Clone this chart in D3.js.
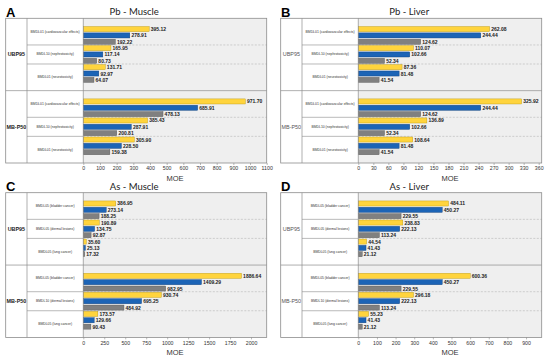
<!DOCTYPE html>
<html>
<head>
<meta charset="utf-8">
<script src="https://cdn.jsdelivr.net/npm/d3@7"></script>
<style>
  body { margin: 0; background: #fff; }
  svg { display: block; }
</style>
</head>
<body>
<div id="chart"></div>
<script>
// groups and endpoints
const groups = ["UBP95", "MB-P50"];
const endpointsPb = ["BMDL01 (cardiovascular effects)", "BMDL10 (nephrotoxicity)", "BMDL01 (neurotoxicity)"];
const endpointsAsUBP = ["BMDL05 (bladder cancer)", "BMDL05 (dermal lesions)", "BMDL05 (lung cancer)"];
const endpointsAsMB = ["BMDL05 (bladder cancer)", "BMDL10 (dermal lesions)", "BMDL05 (lung cancer)"];
const seriesKeys = ["s1", "s2", "s3"];
const colors = ["#FFD43D", "#1C64B6", "#808080"];
const strokes = ["#B8960A", "#0E3E78", "#555555"];

// values: [endpoint][series]
const pbMuscleUBP = [[395.12, 278.91, 192.22], [165.95, 117.14, 80.73], [131.71, 92.97, 64.07]];
const pbMuscleMB = [[971.70, 685.91, 478.13], [385.43, 287.91, 200.81], [305.90, 228.50, 159.38]];
const pbLiverUBP = [[262.08, 244.44, 124.62], [110.07, 102.66, 52.34], [87.36, 81.48, 41.54]];
const pbLiverMB = [[325.92, 244.44, 124.62], [136.89, 102.66, 52.34], [108.64, 81.48, 41.54]];
const asMuscleUBP = [[386.95, 273.14, 188.25], [190.89, 134.75, 92.87], [35.60, 25.13, 17.32]];
const asMuscleMB = [[1886.64, 1409.29, 982.95], [930.74, 695.25, 484.92], [173.57, 129.66, 90.43]];
const asLiverUBP = [[484.11, 450.27, 229.55], [238.83, 222.13, 113.24], [44.54, 41.43, 21.12]];
const asLiverMB = [[600.36, 450.27, 229.55], [296.18, 222.13, 113.24], [55.23, 41.43, 21.12]];

// axis settings
const tickSteps = [100, 30, 250, 100];
const tickMaxes = [1100, 360, 2000, 900];
const axisMaxes = [1100, 366, 2187, 984];

const panels = [
  { letter: "A", title: "Pb - Muscle", labels: [endpointsPb, endpointsPb], values: [pbMuscleUBP, pbMuscleMB], bold: true },
  { letter: "B", title: "Pb - Liver", labels: [endpointsPb, endpointsPb], values: [pbLiverUBP, pbLiverMB], bold: false },
  { letter: "C", title: "As - Muscle", labels: [endpointsAsUBP, endpointsAsMB], values: [asMuscleUBP, asMuscleMB], bold: true },
  { letter: "D", title: "As - Liver", labels: [endpointsAsUBP, endpointsAsMB], values: [asLiverUBP, asLiverMB], bold: false }
];

const width = 550;
const height = 361;

const svg = d3.select("#chart")
  .append("svg")
  .attr("width", width)
  .attr("height", height);

const frameL = 5.7, grpR = 27, labR = 83.3, plotR = 266.7, frameH = 144.7;
const origins = [[0, 18.3], [275, 18.3], [0, 192.7], [275, 192.7]];

function drawPanel(p, i) {
  const [ox, oy] = origins[i];
  const g = svg.append("g").attr("transform", `translate(${ox},${oy})`);

  const x = d3.scaleLinear().domain([0, axisMaxes[i]]).range([labR, plotR]);
  const yGroup = d3.scaleBand().domain(groups).range([0, frameH]);
  const yBar = d3.scaleBand().domain(d3.range(9)).range([0, yGroup.bandwidth()])
    .paddingInner(0.2).paddingOuter(1.3);
  const bw = yBar.bandwidth();

  // backgrounds
  g.append("rect").attr("x", frameL).attr("y", 0).attr("width", labR - frameL).attr("height", frameH)
    .attr("fill", "#fff");
  g.append("rect").attr("x", labR).attr("y", 0).attr("width", plotR - labR).attr("height", frameH)
    .attr("fill", "#EFEFEF");

  // letter and title
  g.append("text").attr("x", 6).attr("y", -1.5)
    .style("font-family", "'Liberation Sans', Arial, sans-serif")
    .style("font-weight", "bold").style("font-size", "13px")
    .text(p.letter);
  g.append("text").attr("x", (frameL + plotR) / 2 - 2).attr("y", i < 2 ? -3.5 : -3)
    .attr("text-anchor", "middle")
    .style("font-family", "Lato, 'Open Sans', sans-serif")
    .style("font-size", "9.5px").style("fill", "#222")
    .text(p.title);

  groups.forEach((grp, gi) => {
    const gy = yGroup(grp);
    const gg = g.append("g").attr("transform", `translate(0,${gy})`);
    const gh = yGroup.bandwidth();

    // separators between endpoints
    const seps = [2, 5].map(k => (yBar(k) + bw + yBar(k + 1)) / 2);
    seps.forEach(sy => {
      gg.append("line").attr("x1", grpR).attr("x2", labR).attr("y1", sy).attr("y2", sy)
        .attr("stroke", "#8c8c8c").attr("stroke-width", 0.6);
      gg.append("line").attr("x1", labR).attr("x2", plotR).attr("y1", sy).attr("y2", sy)
        .attr("stroke", "#b5b5b5").attr("stroke-width", 0.6).attr("stroke-dasharray", "2,1.5");
    });

    // endpoint labels
    const bounds = [0, seps[0], seps[1], gh];
    p.labels[gi].forEach((lab, k) => {
      gg.append("text")
        .attr("x", (grpR + labR) / 2).attr("y", (bounds[k] + bounds[k + 1]) / 2)
        .attr("text-anchor", "middle").attr("dominant-baseline", "central")
        .style("font-family", "'Liberation Sans', Arial, sans-serif")
        .style("font-size", "3.4px").style("fill", "#333")
        .text(lab);
    });

    // group label
    gg.append("text")
      .attr("x", (frameL + grpR) / 2).attr("y", gh / 2)
      .attr("text-anchor", "middle").attr("dominant-baseline", "central")
      .style("font-family", "'Liberation Sans', Arial, sans-serif")
      .style("font-size", "5.4px")
      .style("font-weight", p.bold ? "bold" : "normal")
      .style("fill", p.bold ? "#222" : "#555")
      .text(grp);

    // bars
    const data = [];
    p.values[gi].forEach((row, k) => {
      row.forEach((v, s) => data.push({ idx: k * 3 + s, s, v }));
    });

    gg.selectAll(".bar")
      .data(data)
      .enter()
      .append("rect")
      .attr("class", "bar")
      .attr("x", x(0))
      .attr("y", d => yBar(d.idx))
      .attr("width", d => x(d.v) - x(0))
      .attr("height", bw)
      .attr("fill", d => colors[d.s])
      .attr("stroke", d => strokes[d.s])
      .attr("stroke-width", 0.4);

    gg.selectAll(".val")
      .data(data)
      .enter()
      .append("text")
      .attr("class", "val")
      .attr("x", d => x(d.v) + 1.6)
      .attr("y", d => yBar(d.idx) + bw / 2)
      .attr("dominant-baseline", "central")
      .style("font-family", "'Liberation Sans', Arial, sans-serif")
      .style("font-size", "5px").style("font-weight", "bold").style("fill", "#222")
      .text(d => d3.format(".2f")(d.v));

    // group divider
    if (gi > 0) {
      gg.append("line").attr("x1", frameL).attr("x2", plotR).attr("y1", 0).attr("y2", 0)
        .attr("stroke", "#8c8c8c").attr("stroke-width", 0.7);
    }
  });

  // vertical column lines
  [grpR, labR].forEach(lx => {
    g.append("line").attr("x1", lx).attr("x2", lx).attr("y1", 0).attr("y2", frameH)
      .attr("stroke", "#8c8c8c").attr("stroke-width", 0.7);
  });

  // frame
  g.append("rect").attr("x", frameL).attr("y", 0).attr("width", plotR - frameL).attr("height", frameH)
    .attr("fill", "none").attr("stroke", "#8c8c8c").attr("stroke-width", 0.8);

  // x axis
  const axis = d3.axisBottom(x)
    .tickValues(d3.range(0, tickMaxes[i] + 1, tickSteps[i]))
    .tickSize(2)
    .tickPadding(1.5)
    .tickFormat(d3.format("d"));
  const ax = g.append("g").attr("transform", `translate(0,${frameH})`).call(axis);
  ax.select(".domain").remove();
  ax.selectAll("line").attr("stroke", "#8c8c8c").attr("stroke-width", 0.6);
  ax.selectAll("text")
    .style("font-family", "'Liberation Sans', Arial, sans-serif")
    .style("font-size", "5.2px").style("fill", "#333");

  g.append("text")
    .attr("x", (labR + plotR) / 2).attr("y", frameH + 18)
    .attr("text-anchor", "middle")
    .style("font-family", "'Liberation Sans', Arial, sans-serif")
    .style("font-size", "7.5px").style("fill", "#333")
    .text("MOE");
}

panels.forEach(drawPanel);
</script>
</body>
</html>
